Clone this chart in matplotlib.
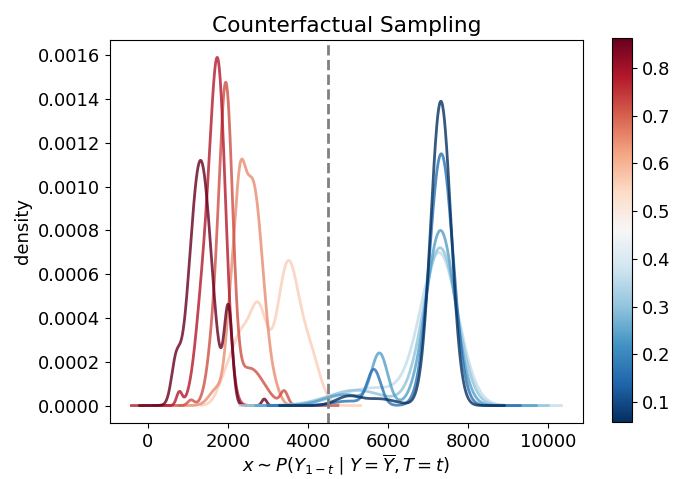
import numpy as np
import matplotlib
matplotlib.use('Agg')
import matplotlib.pyplot as plt
from matplotlib.ticker import FormatStrFormatter

plt.rcParams['font.size'] = 13

# value of t for each curve (colour)
curve_t = [0.56, 0.65, 0.72, 0.78, 0.863, 0.36, 0.30, 0.24, 0.16, 0.058]

# start / end of each drawn density curve
curve_start = [1340, 800, 150, -405, -200, 2300, 2500, 2700, 3000, 3300]
curve_end = [5315, 4100, 4750, 2700, 3200, 10330, 10000, 9700, 9300, 8900]

# density bumps (centre, spread, height)
bump_centre = [
    [1950, 2300, 2750, 3500, 4050],
    [1750, 2050, 2290, 2620, 2900, 3150],
    [1080, 1700, 1965, 2550, 3410],
    [790, 1400, 1760],
    [700, 1320, 2015, 2910],
    [5600, 7280],
    [5200, 7300],
    [4900, 5790, 7310],
    [5000, 5650, 7330],
    [5000, 5800, 7320],
]
bump_spread = [
    [200, 200, 230, 270, 250],
    [200, 120, 140, 200, 150, 150],
    [80, 180, 160, 350, 90],
    [70, 200, 190],
    [110, 270, 100, 60],
    [800, 470],
    [700, 420],
    [500, 200, 360],
    [400, 170, 290],
    [300, 400, 250],
]
bump_height = [
    [0.00012, 0.00025, 0.00044, 0.00064, 0.00022],
    [0.00008, 0.0003, 0.0008, 0.00095, 0.0002, 0.00008],
    [0.000025, 0.00035, 0.00131, 0.00017, 0.00006],
    [0.00006, 0.0005, 0.00148],
    [0.00016, 0.00112, 0.00042, 0.00003],
    [0.00008, 0.00069],
    [0.00007, 0.00072],
    [0.00005, 0.00023, 0.0008],
    [0.00002, 0.00016, 0.00115],
    [0.00004, 0.00003, 0.00139],
]

fig = plt.figure(figsize=(6.81, 4.79), dpi=100)
ax = fig.add_axes([0.1615, 0.117, 0.6945, 0.7995])
cax = fig.add_axes([0.899, 0.119, 0.029, 0.802])

cmap = plt.get_cmap('RdBu_r')
norm = plt.Normalize(min(curve_t), max(curve_t))

for i in range(len(curve_t)):
    x = np.linspace(curve_start[i], curve_end[i], 500)
    y = np.zeros_like(x)
    for c, s, h in zip(bump_centre[i], bump_spread[i], bump_height[i]):
        y += h * np.exp(-0.5 * ((x - c) / s) ** 2)
    ax.plot(x, y, color=cmap(norm(curve_t[i])), lw=2, alpha=0.8)

ax.axvline(4500, color='grey', ls='--', lw=2)

ax.set_yticks(np.arange(0, 0.00161, 0.0002))
ax.yaxis.set_major_formatter(FormatStrFormatter('%.4f'))
ax.set_xticks([0, 2000, 4000, 6000, 8000, 10000])
ax.set_xlabel(r'$x \sim P(Y_{1-t} \mid Y=\overline{Y}, T=t)$', labelpad=1)
ax.set_ylabel('density')
ax.set_title('Counterfactual Sampling')

sm = plt.cm.ScalarMappable(cmap=cmap, norm=norm)
cb = fig.colorbar(sm, cax=cax)
cb.set_ticks([0.1, 0.2, 0.3, 0.4, 0.5, 0.6, 0.7, 0.8])

fig.savefig('out.png', dpi=100)
